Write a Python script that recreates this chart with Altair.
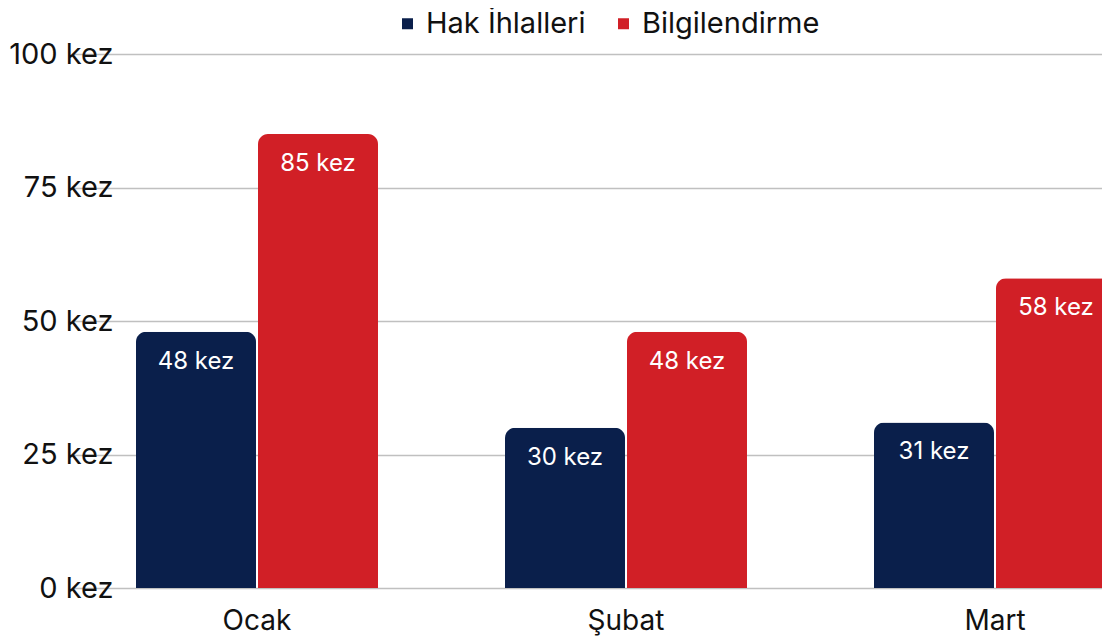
import altair as alt
import pandas as pd

months = ["Ocak", "Şubat", "Mart"]
series = ["Hak İhlalleri", "Bilgilendirme"]
hak = [48, 30, 31]
bilgi = [85, 48, 58]
colors = ["#0a1f4b", "#d11f26"]
y_ticks = [0, 25, 50, 75, 100]

rows = []
for m, a, b in zip(months, hak, bilgi):
    rows.append({"ay": m, "seri": series[0], "deger": a})
    rows.append({"ay": m, "seri": series[1], "deger": b})
df = pd.DataFrame(rows)
df["etiket"] = df["deger"].astype(str) + " kez"

FONT = "Inter"

x_enc = alt.X("ay:N", sort=months,
              scale=alt.Scale(range=[-62.5, 1044.5], paddingInner=0, paddingOuter=0),
              axis=alt.Axis(title=None, labelAngle=0, ticks=False, domain=False,
                            labelFontSize=28, labelFont=FONT, labelColor="#111111",
                            labelPadding=19, grid=False))
xo_enc = alt.XOffset("seri:N", sort=series,
                     scale=alt.Scale(paddingInner=0.0164, paddingOuter=0.5205))
y_enc = alt.Y("deger:Q", scale=alt.Scale(domain=[0, 100], nice=False),
              axis=alt.Axis(title=None, values=y_ticks, labelExpr="datum.value + ' kez'",
                            ticks=False, domain=False, labelFontSize=29, labelFont=FONT,
                            labelColor="#111111", labelPadding=22,
                            gridColor="#c0c0c0", gridWidth=1.5))

bars = alt.Chart(df).mark_bar(cornerRadiusTopLeft=10, cornerRadiusTopRight=10).encode(
    x=x_enc, xOffset=xo_enc, y=y_enc,
    color=alt.Color("seri:N", sort=series,
                    scale=alt.Scale(domain=series, range=colors),
                    legend=alt.Legend(orient="none", legendX=258, legendY=-45,
                                      direction="horizontal", title=None,
                                      symbolType="square", symbolSize=121,
                                      symbolStrokeWidth=0,
                                      labelFontSize=29, labelFont=FONT,
                                      labelColor="#111111", labelOffset=4,
                                      labelLimit=600,
                                      columnPadding=23, padding=0)),
)

labels = alt.Chart(df).mark_text(color="white", fontSize=24, font=FONT,
                                 baseline="alphabetic", dy=37).encode(
    x=alt.X("ay:N", sort=months), xOffset=alt.XOffset("seri:N", sort=series),
    y=alt.Y("deger:Q"), text="etiket:N",
)

chart = alt.layer(bars, labels).properties(
    width=967, height=534,
    padding={"left": 127, "top": 46, "right": 0, "bottom": 50},
    autosize=alt.AutoSizeParams(type="none"),
).configure_view(stroke=None)

chart.save("out.html", embed_options={"renderer": "svg", "actions": False})
